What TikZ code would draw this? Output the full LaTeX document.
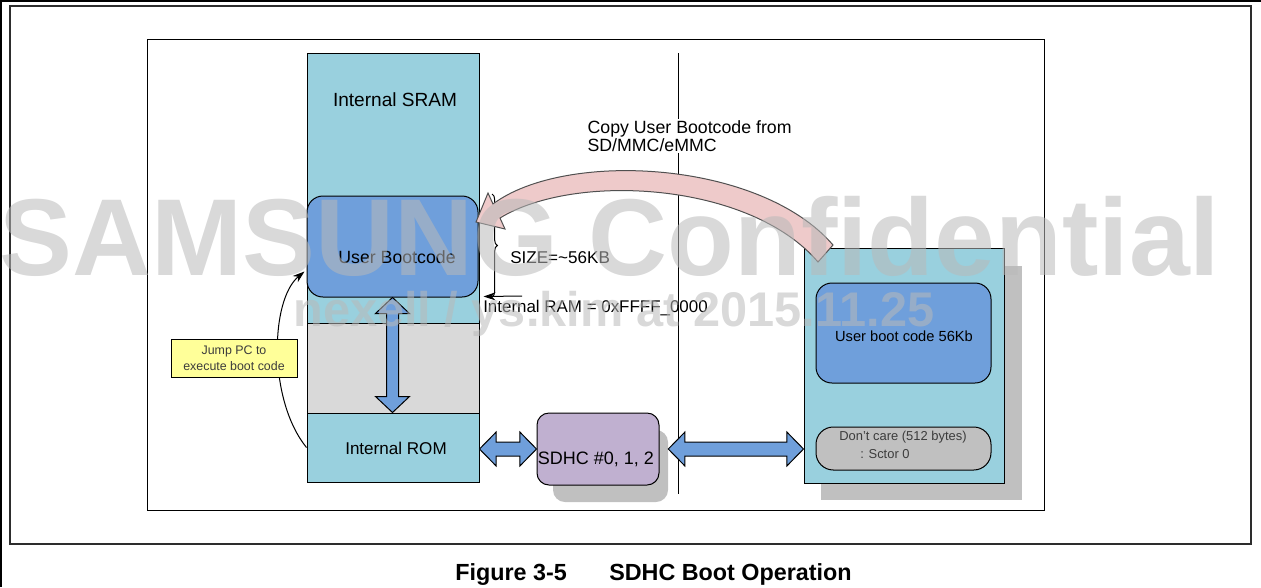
\documentclass[tikz,border=0pt]{standalone}
\usepackage{fontspec}
\setmainfont{Liberation Sans}
\usetikzlibrary{fit,calc,decorations.pathreplacing,arrows.meta}

\definecolor{sramblue}{RGB}{153,208,222}
\definecolor{ubblue}{RGB}{111,159,219}
\definecolor{gapgray}{RGB}{217,217,217}
\definecolor{lav}{RGB}{192,176,208}
\definecolor{shadowgray}{RGB}{192,192,192}
\definecolor{noteyellow}{RGB}{255,255,153}
\definecolor{pinkarrow}{RGB}{238,202,202}
\definecolor{pinkline}{RGB}{80,80,80}
\definecolor{wmgray}{RGB}{185,185,185}
\definecolor{framegray}{RGB}{45,45,45}
\definecolor{dimtext}{RGB}{60,60,60}

\tikzset{
  region/.style={fit={#1}, inner sep=0pt, draw=black, line width=0.75pt},
  barrow/.style={draw=black, fill=ubblue, line width=0.75pt, line join=miter},
  lbl/.style={inner sep=0pt, font=\fontsize{13.3}{15}\selectfont},
  wm/.style={inner sep=0pt, text=wmgray, text opacity=0.55, font=\bfseries},
  captxt/.style={inner sep=0pt, anchor=base west, font=\bfseries\fontsize{17.5}{20}\selectfont},
}

\newcommand{\hbiarrow}[2]{%
  \draw[barrow] let \p1=(#1), \p2=(#2) in
   (\x1,\y1) -- (\x1+12.5pt,\y1+12.75pt) -- (\x1+12.5pt,\y1+5.25pt)
   -- (\x2-12.5pt,\y1+5.25pt) -- (\x2-12.5pt,\y1+12.75pt) -- (\x2,\y1)
   -- (\x2-12.5pt,\y1-12.75pt) -- (\x2-12.5pt,\y1-5.25pt)
   -- (\x1+12.5pt,\y1-5.25pt) -- (\x1+12.5pt,\y1-12.75pt) -- cycle;}
\newcommand{\vbiarrow}[2]{%
  \draw[barrow] let \p1=(#1), \p2=(#2) in
   (\x1,\y1) -- (\x1+12.75pt,\y1-12pt) -- (\x1+4.5pt,\y1-12pt)
   -- (\x1+4.5pt,\y2+12pt) -- (\x1+12.75pt,\y2+12pt) -- (\x1,\y2)
   -- (\x1-12.75pt,\y2+12pt) -- (\x1-4.5pt,\y2+12pt)
   -- (\x1-4.5pt,\y1-12pt) -- (\x1-12.75pt,\y1-12pt) -- cycle;}

\begin{document}
\begin{tikzpicture}[x=0.75pt, y=-0.75pt]
\useasboundingbox (0,0) rectangle (1261,587);

% page frames
\draw[line width=1.1pt] (0.8,587) -- (0.8,1) -- (1261,1);
\draw[line width=1.5pt, framegray] (9.5,6) rectangle (1250.5,543.5);

% diagram frame
\node[region={(147,39) (1044,510)}] (diag) {};

% vertical divider
\coordinate (vtop) at (678,53);
\coordinate (vbot) at (678,494);
\draw[line width=0.75pt] (vtop) -- (vbot);

% memory column
\node[region={(307,53) (479,323)}, fill=sramblue] (sram) {};
\node[region={(307,323) (479,413)}, fill=gapgray] (gap) {};
\node[region={(307,413) (479,482)}, fill=sramblue] (rom) {};
\node[region={(307,196) (478,297)}, fill=ubblue, rounded corners=12pt] (ub) {};
\node[lbl, font=\fontsize{14.3}{16}\selectfont] (sramt) at (395,100) {Internal SRAM};
\node[lbl] (ubt) at (397,257) {User Bootcode};
\node[lbl, font=\fontsize{12.8}{15}\selectfont] (romt) at (396,448) {Internal ROM};

% vertical double arrow
\vbiarrow{ub.south}{rom.north}

% jump PC
\coordinate (jend) at ($(ub.west)+(-2,25)$);
\draw[line width=0.75pt, -{Stealth[length=9pt,width=6pt]}] (rom.west) .. controls (268,400) and (270,300) .. (jend);
\node[draw=black, line width=0.75pt, fill=noteyellow, minimum width=94.5pt, minimum height=28.5pt,
      align=center, inner sep=0pt, text=dimtext, font=\fontsize{9.3}{12}\selectfont] (jump) at (234,358)
      {Jump PC to\\execute boot code};

% size brace and pointer
\coordinate (braceT) at (492,194);
\coordinate (braceB) at (492,297);
\draw[line width=0.75pt, decorate, decoration={brace, amplitude=4pt}] (braceT) -- (braceB);
\node[lbl, anchor=west, font=\fontsize{12.8}{15}\selectfont] (size) at (510,258) {SIZE=\textasciitilde56KB};
\coordinate (ramptr) at (522,296);
\draw[line width=0.75pt, -{Stealth[length=9pt,width=6pt]}] (ramptr) -- ($(ub.south east)+(5,-1)$);
\node[lbl, anchor=west, font=\fontsize{12.7}{15}\selectfont] (ramt) at (483,308) {Internal RAM = 0xFFFF\_0000};

% SD card
\node[fit={(821,266) (1022,500)}, inner sep=0pt, fill=shadowgray] (cardsh) {};
\node[region={(804,248) (1004,483)}, fill=sramblue] (card) {};
\node[region={(816,283) (991,383)}, fill=ubblue, rounded corners=12pt] (ubc) {};
\node[region={(816,427) (991,470)}, fill=shadowgray, rounded corners=13pt] (dc) {};
\node[lbl, font=\fontsize{11}{13}\selectfont] (ubct) at (904,336) {User boot code 56Kb};
\node[lbl, text=dimtext, font=\fontsize{9.7}{12}\selectfont] (dct1) at (903,437) {Don't care (512 bytes)};
\node[lbl, text=dimtext, font=\fontsize{9.7}{12}\selectfont, anchor=west] (dct2) at (860,454) {: Sctor 0};

% SDHC controller
\node[fit={(553,430) (668,502)}, inner sep=0pt, fill=shadowgray, rounded corners=9pt] (sdhcsh) {};
\node[region={(537,413) (659,485)}, fill=lav, rounded corners=9pt] (sdhc) {};
\node[lbl, font=\fontsize{13.5}{15}\selectfont] (sdhct) at (596,459) {SDHC \#0, 1, 2};

% horizontal double arrows
\coordinate (h1a) at (rom.east |- sdhc.west);
\hbiarrow{h1a}{sdhc.west}
\coordinate (h2a) at (sdhcsh.east |- sdhc.east);
\coordinate (h2b) at (card.west |- sdhc.east);
\hbiarrow{h2a}{h2b}

% copy arrow
\draw[draw=pinkline, fill=pinkarrow, line width=0.75pt, line join=miter]
  (493,204) .. controls (565,150) and (760,160) .. (833,245) -- (818,262)
  .. controls (750,182) and (575,172) .. (500,218) -- (505,229) -- (476,222) -- (488,193) -- cycle;
\node[anchor=west, align=left, fill=white, inner sep=1pt, font=\fontsize{13.3}{13.5}\selectfont] (copy) at (586,136)
  {Copy User Bootcode from\\SD/MMC/eMMC};

% caption
\node[captxt] (figno) at (455,580) {Figure 3-5};
\node[captxt] (figtitle) at (609,580) {SDHC Boot Operation};

% watermark
\node[wm, anchor=base, font=\bfseries\fontsize{82}{90}\selectfont] (wm1) at (610,275) {SAMSUNG Confidential};
\node[wm, anchor=base, font=\bfseries\fontsize{36.5}{40}\selectfont] (wm2) at (614,326) {nexell / ys.kim at 2015.11.25};
\end{tikzpicture}
\end{document}
